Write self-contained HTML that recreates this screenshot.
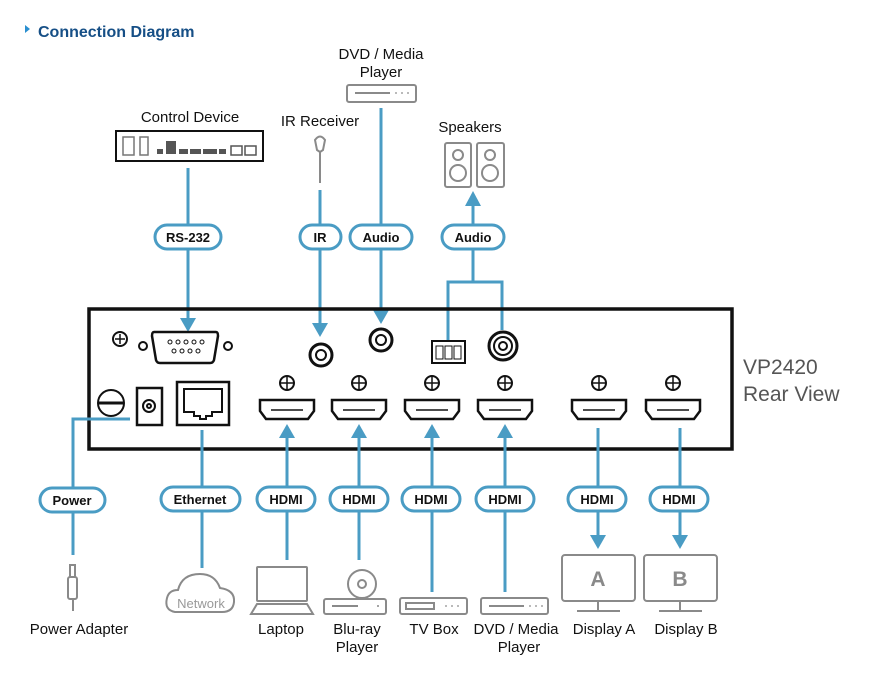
<!DOCTYPE html>
<html><head><meta charset="utf-8"><style>
html,body{margin:0;padding:0;background:#fff;}
svg{display:block;font-family:"Liberation Sans",Arial,sans-serif;}
.b{stroke:#4a9cc4;stroke-width:3;fill:none;}
.g{stroke:#8a8a8a;stroke-width:2;fill:none;}
.k{stroke:#111;stroke-width:2;fill:none;}
.pill{fill:#fff;stroke:#4a9cc4;stroke-width:3;}
.pt{font-size:13px;font-weight:bold;fill:#111;text-anchor:middle;}
.lt{font-size:15px;fill:#111;text-anchor:middle;}
.ah{fill:#4a9cc4;}
</style></head><body>
<svg width="870" height="700" viewBox="0 0 870 700">
<!-- title -->
<polygon points="25,25 30,29 25,33" fill="#2a8fd0"/>
<text x="38" y="37" font-size="16" font-weight="bold" fill="#164f86">Connection Diagram</text>

<!-- top labels -->
<text class="lt" x="381" y="59">DVD / Media</text>
<text class="lt" x="381" y="77">Player</text>
<text class="lt" x="190" y="122">Control Device</text>
<text class="lt" x="320" y="126">IR Receiver</text>
<text class="lt" x="470" y="132">Speakers</text>

<!-- DVD top -->
<rect class="g" x="347" y="85" width="69" height="17" rx="2"/>
<line class="g" x1="355" y1="93" x2="390" y2="93"/>
<circle cx="396" cy="93" r="0.9" fill="#888"/><circle cx="402" cy="93" r="0.9" fill="#888"/><circle cx="408" cy="93" r="0.9" fill="#888"/>

<!-- Control device -->
<rect x="116" y="131" width="147" height="30" fill="#fff" stroke="#111" stroke-width="2"/>
<rect x="123" y="137" width="11" height="18" fill="none" stroke="#777" stroke-width="1.5"/>
<rect x="140" y="137" width="8" height="18" fill="none" stroke="#777" stroke-width="1.5"/>
<rect x="157" y="149" width="6" height="5" fill="#555"/>
<rect x="166" y="141" width="10" height="13" fill="#555"/>
<rect x="179" y="149" width="9" height="5" fill="#555"/>
<rect x="190" y="149" width="11" height="5" fill="#555"/>
<rect x="203" y="149" width="14" height="5" fill="#555"/>
<rect x="219" y="149" width="7" height="5" fill="#555"/>
<rect x="231" y="146" width="11" height="9" fill="none" stroke="#555" stroke-width="1.5"/>
<rect x="245" y="146" width="11" height="9" fill="none" stroke="#555" stroke-width="1.5"/>

<!-- IR receiver -->
<path class="g" d="M315,140 Q320,133 325,140 L323,150 L320,152 L317,150 Z"/>
<line class="g" x1="320" y1="152" x2="320" y2="183"/>

<!-- Speakers -->
<rect class="g" x="445" y="143" width="26" height="44" rx="2"/>
<rect class="g" x="477" y="143" width="27" height="44" rx="2"/>
<circle class="g" cx="458" cy="155" r="5"/><circle class="g" cx="458" cy="173" r="8"/>
<circle class="g" cx="490" cy="155" r="5"/><circle class="g" cx="490" cy="173" r="8"/>

<!-- blue lines top -->
<line class="b" x1="188" y1="168" x2="188" y2="320"/>
<polygon class="ah" points="180,318 196,318 188,332"/>
<line class="b" x1="320" y1="190" x2="320" y2="325"/>
<polygon class="ah" points="312,323 328,323 320,337"/>
<line class="b" x1="381" y1="108" x2="381" y2="312"/>
<polygon class="ah" points="373,310 389,310 381,324"/>
<line class="b" x1="473" y1="204" x2="473" y2="282"/>
<polygon class="ah" points="465,206 481,206 473,191"/>
<path class="b" d="M448,340 L448,282 L502,282 L502,330"/>

<rect class="pill" x="155" y="225" width="66" height="24" rx="12"/><text class="pt" x="188" y="242">RS-232</text>
<rect class="pill" x="300" y="225" width="41" height="24" rx="12"/><text class="pt" x="320" y="242">IR</text>
<rect class="pill" x="350" y="225" width="62" height="24" rx="12"/><text class="pt" x="381" y="242">Audio</text>
<rect class="pill" x="442" y="225" width="62" height="24" rx="12"/><text class="pt" x="473" y="242">Audio</text>

<!-- main box -->
<rect x="89" y="309" width="643" height="140" fill="none" stroke="#111" stroke-width="3.5"/>
<text x="743" y="374" font-size="21" fill="#555">VP2420</text>
<text x="743" y="401" font-size="21" fill="#555">Rear View</text>

<!-- box contents -->
<circle class="k" cx="120" cy="339" r="7"/><path d="M120,334v10M115,339h10" stroke="#111" stroke-width="1.5"/>
<circle class="k" cx="143" cy="346" r="4"/><circle class="k" cx="228" cy="346" r="4"/>
<path d="M154,332 H216 Q218,332 218,336 L214,360 Q213,363 210,363 H160 Q157,363 156,360 L152,336 Q152,332 154,332Z" fill="none" stroke="#111" stroke-width="2.5"/>
<g fill="none" stroke="#111" stroke-width="1"><circle cx="170" cy="342" r="2"/><circle cx="178" cy="342" r="2"/><circle cx="186" cy="342" r="2"/><circle cx="194" cy="342" r="2"/><circle cx="202" cy="342" r="2"/><circle cx="174" cy="351" r="2"/><circle cx="182" cy="351" r="2"/><circle cx="190" cy="351" r="2"/><circle cx="198" cy="351" r="2"/></g>
<circle cx="321" cy="355" r="11" fill="none" stroke="#111" stroke-width="3"/><circle class="k" cx="321" cy="355" r="5" stroke-width="1.5"/>
<circle cx="381" cy="340" r="11" fill="none" stroke="#111" stroke-width="3"/><circle class="k" cx="381" cy="340" r="5" stroke-width="1.5"/>
<rect x="432" y="341" width="33" height="22" fill="none" stroke="#111" stroke-width="2"/>
<g fill="none" stroke="#111" stroke-width="1"><rect x="436" y="346" width="7" height="13"/><rect x="445" y="346" width="7" height="13"/><rect x="454" y="346" width="7" height="13"/></g>
<circle cx="503" cy="346" r="14" fill="none" stroke="#111" stroke-width="3"/><circle class="k" cx="503" cy="346" r="9" stroke-width="1.5"/><circle class="k" cx="503" cy="346" r="4" stroke-width="1.5"/>
<circle class="k" cx="111" cy="403" r="13"/><line x1="98" y1="403" x2="124" y2="403" stroke="#111" stroke-width="3"/>
<rect x="137" y="388" width="25" height="37" fill="none" stroke="#111" stroke-width="2.5"/><circle class="k" cx="149" cy="406" r="6" stroke-width="1.5"/><circle class="k" cx="149" cy="406" r="2" stroke-width="1"/>
<rect x="177" y="382" width="52" height="43" fill="none" stroke="#111" stroke-width="2.5"/>
<path class="k" d="M184,389 H222 V412 H212 V416 H206 V419 H200 V416 H194 V412 H184 Z" stroke-width="1.5"/>

<g id="hd">
</g>
<!-- HDMI ports -->
<g fill="none" stroke="#111">
<g transform="translate(287,0)"><circle cx="0" cy="383" r="7" stroke-width="2"/><path d="M0,377v12M-6,383h12" stroke-width="1.5"/><path d="M-27,400 H27 V411 L21,419 H-21 L-27,411 Z" stroke-width="2.5"/><line x1="-16" y1="410" x2="16" y2="410" stroke-width="1.5"/></g>
<g transform="translate(359,0)"><circle cx="0" cy="383" r="7" stroke-width="2"/><path d="M0,377v12M-6,383h12" stroke-width="1.5"/><path d="M-27,400 H27 V411 L21,419 H-21 L-27,411 Z" stroke-width="2.5"/><line x1="-16" y1="410" x2="16" y2="410" stroke-width="1.5"/></g>
<g transform="translate(432,0)"><circle cx="0" cy="383" r="7" stroke-width="2"/><path d="M0,377v12M-6,383h12" stroke-width="1.5"/><path d="M-27,400 H27 V411 L21,419 H-21 L-27,411 Z" stroke-width="2.5"/><line x1="-16" y1="410" x2="16" y2="410" stroke-width="1.5"/></g>
<g transform="translate(505,0)"><circle cx="0" cy="383" r="7" stroke-width="2"/><path d="M0,377v12M-6,383h12" stroke-width="1.5"/><path d="M-27,400 H27 V411 L21,419 H-21 L-27,411 Z" stroke-width="2.5"/><line x1="-16" y1="410" x2="16" y2="410" stroke-width="1.5"/></g>
<g transform="translate(599,0)"><circle cx="0" cy="383" r="7" stroke-width="2"/><path d="M0,377v12M-6,383h12" stroke-width="1.5"/><path d="M-27,400 H27 V411 L21,419 H-21 L-27,411 Z" stroke-width="2.5"/><line x1="-16" y1="410" x2="16" y2="410" stroke-width="1.5"/></g>
<g transform="translate(673,0)"><circle cx="0" cy="383" r="7" stroke-width="2"/><path d="M0,377v12M-6,383h12" stroke-width="1.5"/><path d="M-27,400 H27 V411 L21,419 H-21 L-27,411 Z" stroke-width="2.5"/><line x1="-16" y1="410" x2="16" y2="410" stroke-width="1.5"/></g>
</g>

<!-- bottom blue -->
<path class="b" d="M130,419 H73 V555"/>
<line class="b" x1="202" y1="430" x2="202" y2="568"/>
<line class="b" x1="287" y1="436" x2="287" y2="560"/><polygon class="ah" points="279,438 295,438 287,424"/>
<line class="b" x1="359" y1="436" x2="359" y2="560"/><polygon class="ah" points="351,438 367,438 359,424"/>
<line class="b" x1="432" y1="436" x2="432" y2="592"/><polygon class="ah" points="424,438 440,438 432,424"/>
<line class="b" x1="505" y1="436" x2="505" y2="592"/><polygon class="ah" points="497,438 513,438 505,424"/>
<line class="b" x1="598" y1="428" x2="598" y2="537"/><polygon class="ah" points="590,535 606,535 598,549"/>
<line class="b" x1="680" y1="428" x2="680" y2="537"/><polygon class="ah" points="672,535 688,535 680,549"/>

<rect class="pill" x="40" y="488" width="65" height="24" rx="12"/><text class="pt" x="72" y="505">Power</text>
<rect class="pill" x="161" y="487" width="79" height="24" rx="12"/><text class="pt" x="200" y="504">Ethernet</text>
<g>
<rect class="pill" x="257" y="487" width="58" height="24" rx="12"/><text class="pt" x="286" y="504">HDMI</text>
<rect class="pill" x="330" y="487" width="58" height="24" rx="12"/><text class="pt" x="359" y="504">HDMI</text>
<rect class="pill" x="402" y="487" width="58" height="24" rx="12"/><text class="pt" x="431" y="504">HDMI</text>
<rect class="pill" x="476" y="487" width="58" height="24" rx="12"/><text class="pt" x="505" y="504">HDMI</text>
<rect class="pill" x="568" y="487" width="58" height="24" rx="12"/><text class="pt" x="597" y="504">HDMI</text>
<rect class="pill" x="650" y="487" width="58" height="24" rx="12"/><text class="pt" x="679" y="504">HDMI</text>
</g>

<!-- bottom devices -->
<rect class="g" x="70" y="565" width="5" height="12"/>
<rect class="g" x="68" y="577" width="9" height="22" rx="2"/>
<line class="g" x1="73" y1="599" x2="73" y2="611"/>
<path class="g" d="M175,612 Q164,610 167,598 Q169,590 178,590 Q182,574 200,574 Q215,574 220,588 Q235,590 234,602 Q233,612 222,612 Z"/>
<text x="201" y="608" font-size="13" fill="#999" text-anchor="middle">Network</text>
<rect class="g" x="257" y="567" width="50" height="34" rx="1"/>
<path class="g" d="M257,604 H307 L313,614 H251 Z"/>
<circle class="g" cx="362" cy="584" r="14"/><circle class="g" cx="362" cy="584" r="4"/>
<rect class="g" x="324" y="599" width="62" height="15" rx="2"/>
<line class="g" x1="332" y1="606" x2="358" y2="606"/><circle cx="378" cy="606" r="1" fill="#888"/>
<rect class="g" x="400" y="598" width="67" height="16" rx="2"/>
<rect class="g" x="406" y="603" width="28" height="6"/>
<circle cx="446" cy="606" r="0.9" fill="#888"/><circle cx="452" cy="606" r="0.9" fill="#888"/><circle cx="458" cy="606" r="0.9" fill="#888"/>
<rect class="g" x="481" y="598" width="67" height="16" rx="2"/>
<line class="g" x1="489" y1="606" x2="524" y2="606"/>
<circle cx="530" cy="606" r="0.9" fill="#888"/><circle cx="536" cy="606" r="0.9" fill="#888"/><circle cx="542" cy="606" r="0.9" fill="#888"/>
<rect class="g" x="562" y="555" width="73" height="46" rx="3"/>
<line class="g" x1="598" y1="601" x2="598" y2="610"/><line class="g" x1="577" y1="611" x2="620" y2="611"/>
<text x="598" y="586" font-size="21" font-weight="bold" fill="#8a8a8a" text-anchor="middle">A</text>
<rect class="g" x="644" y="555" width="73" height="46" rx="3"/>
<line class="g" x1="680" y1="601" x2="680" y2="610"/><line class="g" x1="659" y1="611" x2="702" y2="611"/>
<text x="680" y="586" font-size="21" font-weight="bold" fill="#8a8a8a" text-anchor="middle">B</text>

<text class="lt" x="79" y="634">Power Adapter</text>
<text class="lt" x="281" y="634">Laptop</text>
<text class="lt" x="357" y="634">Blu-ray</text>
<text class="lt" x="357" y="652">Player</text>
<text class="lt" x="434" y="634">TV Box</text>
<text class="lt" x="516" y="634">DVD / Media</text>
<text class="lt" x="519" y="652">Player</text>
<text class="lt" x="604" y="634">Display A</text>
<text class="lt" x="686" y="634">Display B</text>
</svg>
</body></html>
